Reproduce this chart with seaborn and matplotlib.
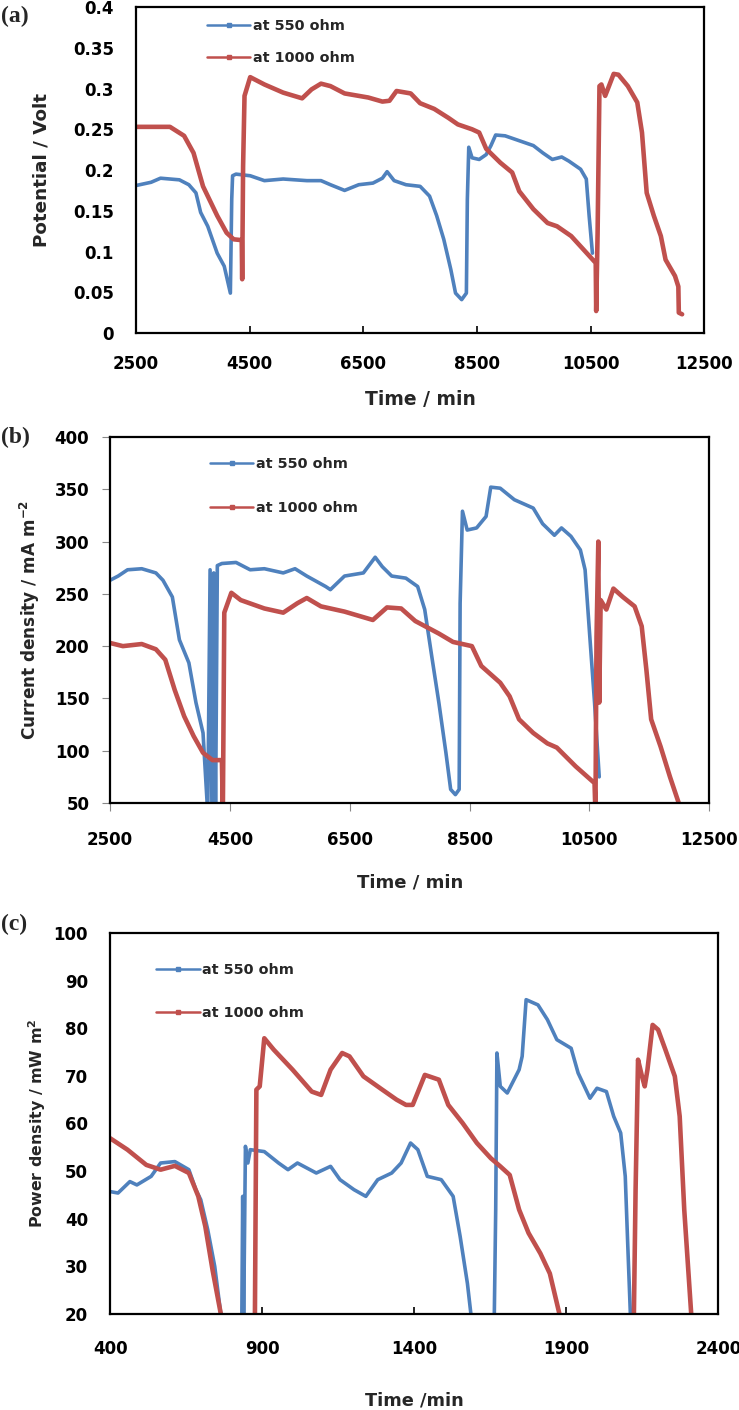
import numpy as np
import pandas as pd
import matplotlib
matplotlib.use("Agg")
import matplotlib.pyplot as plt
import seaborn as sns

# =====================================
# Data
# NaN = break in the recorded line
# =====================================
# (a) potential, 550 ohm
a_blue_t = [2500, 2766, 2932, 3264, 3430, 3555, 3638, 3763, 3929, 4053, 4161,
            4185, 4200, 4260, 4510, 4760, 5090, 5507, 5756, 5922, 6171, 6420,
            6670, 6836, 6919, 7043, 7251, 7500, 7666, 7791, 7916, 8040, 8123,
            8231, 8314, 8331, 8356, 8414, 8539, 8663, 8746, 8829, 8995, 9244,
            9493, 9660, 9826, 9992, 10117, 10324, 10424, 10474, 10532]
a_blue_v = [0.181, 0.185, 0.190, 0.188, 0.182, 0.172, 0.148, 0.131, 0.098, 0.082,
            0.049, 0.164, 0.193, 0.195, 0.193, 0.187, 0.189, 0.187, 0.187, 0.182,
            0.175, 0.182, 0.184, 0.190, 0.198, 0.187, 0.182, 0.180, 0.168, 0.144,
            0.115, 0.078, 0.049, 0.041, 0.049, 0.164, 0.228, 0.215, 0.213, 0.219,
            0.230, 0.243, 0.242, 0.236, 0.230, 0.221, 0.213, 0.216, 0.211, 0.201,
            0.189, 0.144, 0.098]

# (a) potential, 1000 ohm
a_red_t = [2500, 3098, 3347, 3513, 3680, 3929, 4095, 4219, 4361, 4369, 4385,
           4410, 4510, 4760, 5090, 5424, 5590, 5756, 5922, 6171, 6587, 6836,
           6960, 7085, 7334, 7500, 7749, 7998, 8164, 8414, 8539, 8663, 8912,
           9120, 9244, 9493, 9743, 9909, 10158, 10407, 10590, 10598, 10623,
           10656, 10690, 10756, 10823, 10906, 10989, 11155, 11321, 11404, 11487,
           11612, 11736, 11819, 11985, 12044, 12052, 12110]
a_red_v = [0.253, 0.253, 0.242, 0.221, 0.180, 0.144, 0.123, 0.115, 0.114, 0.066,
           0.205, 0.291, 0.314, 0.305, 0.295, 0.288, 0.299, 0.306, 0.303, 0.294,
           0.289, 0.284, 0.285, 0.297, 0.294, 0.282, 0.275, 0.264, 0.256, 0.250,
           0.246, 0.226, 0.209, 0.197, 0.174, 0.152, 0.135, 0.131, 0.119, 0.100,
           0.086, 0.027, 0.123, 0.303, 0.305, 0.291, 0.303, 0.318, 0.317, 0.303,
           0.283, 0.246, 0.172, 0.144, 0.119, 0.090, 0.070, 0.057, 0.025, 0.023]

# (b) current density, 550 ohm
b_blue_t = [2500, 2634, 2791, 3028, 3264, 3382, 3539, 3657, 3815, 3933, 4051,
            4130, 4169, 4200, 4230, 4260, 4290, 4366, 4602, 4838, 5075, 5390,
            5587, 5783, 6098, 6177, 6413, 6728, 6925, 7043, 7201, 7437, 7634,
            7752, 7870, 7988, 8106, 8185, 8264, 8327, 8343, 8382, 8461, 8618,
            8776, 8854, 9012, 9248, 9563, 9720, 9917, 10035, 10193, 10350,
            10429, 10508, 10587, 10665]
b_blue_v = [263, 267, 273, 274, 270, 263, 247, 206, 184, 146, 117,
            40, 273, 40, 270, 40, 277, 279, 280, 273, 274, 270,
            274, 267, 257, 254, 267, 270, 285, 276, 267, 265, 257,
            235, 190, 146, 98, 63, 58, 63, 241, 329, 311, 313,
            324, 352, 351, 340, 332, 317, 306, 313, 305, 292,
            273, 209, 146, 75]

# (b) current density, 1000 ohm
b_red_t = [2500, 2713, 3028, 3264, 3421, 3579, 3736, 3894, 4051, 4209, 4366,
           4382, 4406, 4524, 4681, 5075, 5390, 5626, 5783, 6020, 6413, 6886,
           7122, 7358, 7594, 7988, 8224, 8539, 8697, 9012, 9169, 9327, 9563,
           9799, 9957, 10272, 10587, 10602, 10620, 10650, 10665, 10689, 10784,
           10902, 11059, 11256, 11374, 11453, 11532, 11689, 11846, 12004]
b_red_v = [203, 200, 202, 197, 187, 158, 133, 114, 98, 91, 91,
           40, 232, 251, 244, 236, 232, 241, 246, 238, 233, 225,
           237, 236, 224, 212, 204, 200, 181, 165, 152, 130, 117,
           107, 103, 85, 69, 40, 209, 300, 146, 244, 235,
           255, 247, 238, 219, 177, 130, 104, 75, 48]

# (c) power density, 550 ohm
c_blue_t = [400, 426, 465, 488, 535, 566, 613, 659, 682, 698, 721, 744, 768,
            np.nan, 833, 836, 839, 845, 853, 861, 907, 954, 985, 1016, 1078,
            1125, 1156, 1202, 1241, 1280, 1326, 1357, 1388, 1412, 1443, 1489,
            1528, 1551, 1575, 1590, np.nan, 1663, 1668, 1672, 1683, 1706, 1745,
            1755, 1768, 1807, 1838, 1869, 1916, 1939, 1978, 2001, 2032, 2056,
            2079, 2094, 2102, 2112]
c_blue_v = [45.7, 45.4, 47.8, 47.1, 48.9, 51.7, 52.0, 50.3, 46.1, 44.0, 37.7,
            30.0, 18.0, np.nan, 18.0, 44.7, 18.0, 55.2, 51.7, 54.5, 54.1, 51.7,
            50.3, 51.7, 49.6, 51.0, 48.2, 46.1, 44.7, 48.2, 49.6, 51.7, 55.9,
            54.5, 48.9, 48.2, 44.7, 36.3, 26.4, 18.0, np.nan, 18.0, 41.9, 74.8,
            67.8, 66.4, 71.3, 74.1, 86.0, 84.9, 81.8, 77.6, 75.8, 70.6, 65.3,
            67.4, 66.7, 61.5, 58.0, 48.9, 34.9, 18.0]

# (c) power density, 1000 ohm
c_red_t = [400, 457, 519, 566, 613, 659, 690, 713, 737, 770, np.nan, 876, 881,
           892, 907, 938, 1000, 1063, 1094, 1125, 1163, 1187, 1233, 1295, 1342,
           1373, 1395, 1435, 1481, 1512, 1559, 1606, 1652, 1683, 1714, 1745,
           1776, 1815, 1846, 1885, np.nan, 2122, 2128, 2136, 2149, 2158, 2167,
           2184, 2202, 2226, 2257, 2273, 2288, 2313]
c_red_v = [56.9, 54.5, 51.3, 50.3, 51.1, 49.6, 44.7, 38.4, 29.2, 18.0, np.nan,
           18.0, 67.1, 67.8, 77.9, 75.5, 71.3, 66.7, 66.0, 71.3, 74.8, 74.1,
           69.9, 67.1, 65.0, 63.9, 63.9, 70.2, 69.2, 63.9, 60.1, 55.9, 52.7,
           51.0, 49.2, 41.9, 37.0, 32.7, 28.5, 18.0, np.nan, 18.0, 46.1, 73.4,
           69.9, 67.8, 71.3, 80.7, 79.7, 75.5, 69.9, 61.5, 41.9, 18.0]

labels = ["at 550 ohm", "at 1000 ohm"]
BLUE = "#4F81BD"
RED = "#C0504D"


def to_frame(t, v):
    df = pd.DataFrame({"t": t, "v": v})
    df["seg"] = df["v"].isna().cumsum()
    return df.dropna()


# =====================================
# Figure
# =====================================
sns.set_theme(style="white")
plt.rcParams["font.family"] = ["DejaVu Sans"]
plt.rcParams["font.weight"] = "bold"

fig = plt.figure(figsize=(7.39, 14.10), dpi=100)

panels = [
    dict(rect=[0.184, 0.7638, 0.769, 0.2312], blue=(a_blue_t, a_blue_v),
         red=(a_red_t, a_red_v), xlim=(2500, 12500), ylim=(0, 0.4),
         xt=np.arange(2500, 12501, 2000), yt=np.arange(0, 0.401, 0.05),
         yfmt=lambda y: "0" if y == 0 else f"{y:g}",
         ylabel="Potential / Volt", ylsize=13.2,
         xlabel="Time / min", xlsize=13.5,
         tag="(a)", tagpos=(0.002, 0.996), leg=(0.125, 0.962), lspace=1.2,
         tickdir="in", xpad=16, ypad=16, xlab_pad=12, ylab_pad=16),
    dict(rect=[0.149, 0.4305, 0.8106, 0.2596], blue=(b_blue_t, b_blue_v),
         red=(b_red_t, b_red_v), xlim=(2500, 12500), ylim=(50, 400),
         xt=np.arange(2500, 12501, 2000), yt=np.arange(50, 401, 50),
         yfmt=lambda y: f"{y:g}",
         ylabel="Current density / mA m$^{\\mathbf{-2}}$", ylsize=12.2,
         xlabel="Time / min", xlsize=13,
         tag="(b)", tagpos=(0.002, 0.697), leg=(0.167, 0.946), lspace=2.1,
         tickdir="out", xpad=14, ypad=9, xlab_pad=18, ylab_pad=9),
    dict(rect=[0.149, 0.0681, 0.823, 0.2702], blue=(c_blue_t, c_blue_v),
         red=(c_red_t, c_red_v), xlim=(400, 2400), ylim=(20, 100),
         xt=np.arange(400, 2401, 500), yt=np.arange(20, 101, 10),
         yfmt=lambda y: f"{y:g}",
         ylabel="Power density / mW m$^{\\mathbf{2}}$", ylsize=11.4,
         xlabel="Time /min", xlsize=12.8,
         tag="(c)", tagpos=(0.002, 0.352), leg=(0.076, 0.921), lspace=2.0,
         tickdir="in", xpad=19, ypad=16, xlab_pad=24, ylab_pad=4),
]

for p in panels:
    ax = fig.add_axes(p["rect"])
    for (t, v), col, lw, lab in [(p["blue"], BLUE, 2.6, labels[0]),
                                 (p["red"], RED, 3.3, labels[1])]:
        sns.lineplot(data=to_frame(t, v), x="t", y="v", units="seg",
                     estimator=None, color=col, linewidth=lw, ax=ax,
                     sort=False)
        ax.plot([], [], color=col, lw=1.8, marker="s", markersize=3,
                label=lab)

    ax.set_xlim(*p["xlim"])
    ax.set_ylim(*p["ylim"])
    ax.set_xticks(p["xt"])
    ax.set_yticks(p["yt"])
    ax.set_xticklabels([f"{x:g}" for x in p["xt"]])
    ax.set_yticklabels([p["yfmt"](y) for y in p["yt"]])
    for s in ax.spines.values():
        s.set_visible(True)
        s.set_color("black")
        s.set_linewidth(1.6)

    if p["tickdir"] == "in":
        ax.tick_params(axis="x", direction="in", length=5, width=1.2,
                       colors="black", pad=p["xpad"], labelsize=12)
        ax.tick_params(axis="y", length=0, pad=p["ypad"], labelsize=12,
                       colors="black")
    else:
        ax.tick_params(axis="both", direction="out", length=6, width=0.8,
                       color="#888888", labelcolor="black", labelsize=12)
        ax.tick_params(axis="x", pad=p["xpad"])
        ax.tick_params(axis="y", pad=p["ypad"])
    ax.tick_params(bottom=True, left=True)

    ax.set_xlabel(p["xlabel"], fontsize=p["xlsize"], fontweight="bold",
                  labelpad=p["xlab_pad"])
    ax.set_ylabel(p["ylabel"], fontsize=p["ylsize"], fontweight="bold",
                  labelpad=p["ylab_pad"])

    ax.legend(loc="upper left", bbox_to_anchor=p["leg"], frameon=False,
              borderaxespad=0, borderpad=0,
              handlelength=3.0, handletextpad=0.15, labelspacing=p["lspace"],
              prop={"size": 10.4, "weight": "bold"})

    fig.text(p["tagpos"][0], p["tagpos"][1], p["tag"],
             family="Liberation Serif", fontweight="bold", fontsize=17,
             va="top", ha="left")

fig.savefig("out.png", dpi=100)
